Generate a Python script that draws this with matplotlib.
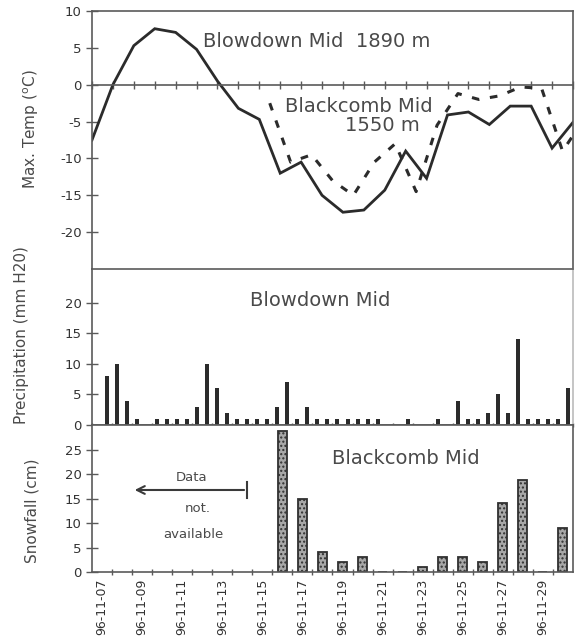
import numpy as np
import matplotlib
matplotlib.use('Agg')
import matplotlib.pyplot as plt

plt.rcParams['font.family'] = ['DejaVu Sans']
plt.rcParams['axes.unicode_minus'] = False

# days 96-11-07 .. 96-11-30
dates = ['96-11-%02d' % d for d in range(7, 31)]

# max temperature (deg C)
blowdown_temp = [-7.5, 0.0, 5.3, 7.6, 7.1, 4.8, 0.5, -3.2, -4.7, -12.0, -10.5, -15.0,
                 -17.3, -17.0, -14.3, -9.0, -12.7, -4.1, -3.7, -5.4, -2.9, -2.9, -8.6, -5.1]
blackcomb_x = np.arange(8.5, 24.0, 1.0)
blackcomb_temp = [-2.5, -10.5, -9.5, -13.0, -15.0, -10.5, -8.0, -14.5,
                  -5.5, -1.2, -2.0, -1.5, -0.3, -0.5, -9.0, -4.8]

# precipitation, two readings per day (mm H20)
blowdown_precip = [0, 8, 10, 4, 1, 0, 1, 1, 1, 1, 3, 10, 6, 2, 1, 1,
                   1, 1, 3, 7, 1, 3, 1, 1, 1, 1, 1, 1, 1, 0, 0, 1,
                   0, 0, 1, 0, 4, 1, 1, 2, 5, 2, 14, 1, 1, 1, 1, 6]

# snowfall (cm), no data before 96-11-16
blackcomb_snow = [np.nan] * 9 + [28.8, 15, 4, 2, 3, 0, 0, 1, 3, 3, 2, 14, 18.7, 0, 9]

line_col = '#2b2b2b'
spine_col = '#5a5a5a'
text_col = '#4a4a4a'

fig = plt.figure(figsize=(5.8, 6.37), dpi=100)
ax1 = fig.add_axes([0.1586, 0.5777, 0.8293, 0.405])
ax2 = fig.add_axes([0.1586, 0.3328, 0.8293, 0.2449])
ax3 = fig.add_axes([0.1586, 0.1020, 0.8293, 0.2308])

for ax in (ax1, ax2, ax3):
    for s in ax.spines.values():
        s.set_color(spine_col)
        s.set_linewidth(1.2)
    ax.tick_params(axis='y', direction='inout', length=8.5, width=1,
                   color=spine_col, labelsize=9.5, labelcolor='#333333', pad=3)

# --- temperature
days = np.arange(len(dates))
ax1.plot(days, blowdown_temp, color=line_col, lw=2.0, solid_joinstyle='miter')
ax1.plot(blackcomb_x, blackcomb_temp, color=line_col, lw=2.2,
         linestyle=(0, (2.5, 3.5)))
ax1.set_xlim(0, 23)
ax1.set_ylim(-25, 10)
ax1.set_yticks([-20, -15, -10, -5, 0, 5, 10])
ax1.spines['bottom'].set_position(('data', 0))
ax1.set_xticks(days)
ax1.tick_params(axis='x', direction='inout', length=6, width=1,
                color=spine_col, labelbottom=False)
ax1.text(0.231, 0.88, 'Blowdown Mid  1890 m', transform=ax1.transAxes,
         fontsize=14, color=text_col, va='center')
ax1.text(0.401, 0.628, 'Blackcomb Mid', transform=ax1.transAxes,
         fontsize=14, color=text_col, va='center')
ax1.text(0.526, 0.558, '1550 m', transform=ax1.transAxes,
         fontsize=14, color=text_col, va='center')
ax1.text(-0.127, 0.543, r'Max. Temp ($^{\mathrm{o}}$C)', transform=ax1.transAxes,
         rotation=90, ha='center', va='center', fontsize=11, color=text_col)

# --- precipitation
precip_x = np.arange(len(blowdown_precip)) * 0.5 - 0.25
ax2.bar(precip_x, blowdown_precip, width=0.2, color=line_col)
ax2.set_xlim(-0.5, 23.5)
ax2.set_ylim(0, 25.5)
ax2.set_yticks([0, 5, 10, 15, 20])
ax2.spines['right'].set_color('#bbbbbb')
ax2.set_xticks(np.arange(-0.5, 24.0, 1.0))
ax2.tick_params(axis='x', direction='inout', length=3, width=1,
                color=spine_col, labelbottom=False)
ax2.text(0.328, 0.80, 'Blowdown Mid', transform=ax2.transAxes,
         fontsize=14, color=text_col, va='center')
ax2.text(-0.146, 0.577, 'Precipitation (mm H20)', transform=ax2.transAxes,
         rotation=90, ha='center', va='center', fontsize=11, color=text_col)

# --- snowfall
ax3.bar(days, blackcomb_snow, width=0.45, color='#a8a8a8', edgecolor='#303030',
        lw=1.3, hatch='....')
ax3.set_xlim(-0.5, 23.5)
ax3.set_ylim(0, 30)
ax3.set_yticks([0, 5, 10, 15, 20, 25])
ax3.set_xticks(days[::2])
ax3.set_xticklabels(dates[::2], rotation=90)
ax3.set_xticks(np.arange(0.5, 23.0, 1.0), minor=True)
ax3.tick_params(axis='x', which='major', length=0, pad=5, labelsize=9,
                labelcolor='#333333')
ax3.tick_params(axis='x', which='minor', direction='inout', length=5, width=1,
                color=spine_col)
ax3.text(0.499, 0.769, 'Blackcomb Mid', transform=ax3.transAxes,
         fontsize=14, color=text_col, va='center')
ax3.text(-0.125, 0.415, 'Snowfall (cm)', transform=ax3.transAxes,
         rotation=90, ha='center', va='center', fontsize=11, color=text_col)

ax3.annotate('', xy=(0.083, 0.558), xytext=(0.322, 0.558), xycoords='axes fraction',
             arrowprops=dict(arrowstyle='->', color='#3a3a3a', lw=1.5,
                             mutation_scale=14))
ax3.plot([0.322, 0.322], [0.503, 0.612], transform=ax3.transAxes,
         color='#3a3a3a', lw=1.5)
ax3.text(0.208, 0.646, 'Data', transform=ax3.transAxes, ha='center', va='center',
         fontsize=9.5, color=text_col)
ax3.text(0.220, 0.435, 'not.', transform=ax3.transAxes, ha='center', va='center',
         fontsize=9.5, color=text_col)
ax3.text(0.210, 0.252, 'available', transform=ax3.transAxes, ha='center', va='center',
         fontsize=9.5, color=text_col)

fig.savefig('out.png', dpi=100, facecolor='white')
